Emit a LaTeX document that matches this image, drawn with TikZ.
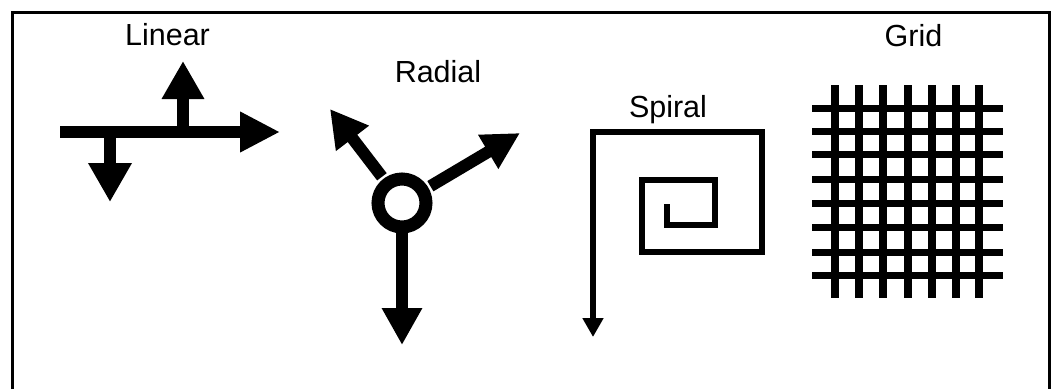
\documentclass[tikz,border=0pt]{standalone}
\usepackage{fontspec}
\setmainfont{Liberation Sans}
\usetikzlibrary{arrows.meta,calc}
\begin{document}
\begin{tikzpicture}[x=1pt,y=-1pt,
  label/.style={anchor=base,inner sep=0pt,font=\fontsize{30.5}{36}\selectfont},
  fatarrow/.style={line width=12pt,-{Triangle[length=#1]}},
  fatarrow/.default={39pt,width=39pt},
  spiralline/.style={line width=6.5pt,miter limit=10,-{Triangle[length=19pt,width=20pt]}},
  gridline/.style={line width=#1,line cap=butt}]
  \useasboundingbox (0,0) rectangle (1053,389);

  % frame (open at the bottom edge)
  \draw[line width=3pt] (12,389) -- (12,12) -- (1049,12) -- (1049,389);

  % labels
  \node[label] (tLinear) at (167.5,45) {Linear};
  \node[label] (tRadial) at (438,82)   {Radial};
  \node[label] (tSpiral) at (668,117)  {Spiral};
  \node[label] (tGrid)   at (913.5,46) {Grid};

  % linear: trunk with two branches
  \coordinate (lStart) at (60,132);
  \coordinate (lEnd)   at (280,132);
  \coordinate (lUpRoot) at (183,132);
  \coordinate (lUpTip)  at (183,61);
  \coordinate (lDnRoot) at (110,132);
  \coordinate (lDnTip)  at (110,202);
  \draw[fatarrow={40pt,width=38pt}] (lStart) -- (lEnd);
  \draw[fatarrow={38pt,width=40pt}] (lUpRoot) -- (lUpTip);
  \draw[fatarrow={39pt,width=41pt}] (lDnRoot) -- (lDnTip);

  % radial: hub ring with three spokes
  \node[circle,draw,line width=13pt,minimum size=48pt,inner sep=0pt] (hub) at (402,203) {};
  \coordinate (rTipUL) at (330,109);
  \coordinate (rTipUR) at (520,133);
  \coordinate (rTipDn) at (402,345);
  \draw[fatarrow={37pt,width=39pt}] ($(hub.center)!33pt!(rTipUL)$) -- (rTipUL);
  \draw[fatarrow={37pt,width=37pt}] ($(hub.center)!33pt!(rTipUR)$) -- (rTipUR);
  \draw[fatarrow={37pt,width=38pt}] ($(hub.center)!28pt!(rTipDn)$) -- (rTipDn);

  % spiral: square spiral leaving downwards
  \coordinate (sIn)  at (667,204);
  \coordinate (sOut) at (593,337);
  \draw[spiralline] (sIn) -- (667,225) -- (715,225) -- (715,180) -- (642,180)
     -- (642,252) -- (762,252) -- (762,132) -- (593,132) -- (sOut);

  % grid
  \foreach \gx in {835,859,883,908,932,956,979}
    \draw[gridline=8pt] (\gx,85) -- (\gx,298);
  \foreach \gy in {108,131,154,179,203,227,252,275}
    \draw[gridline=7pt] (812,\gy) -- (1003,\gy);
\end{tikzpicture}
\end{document}
